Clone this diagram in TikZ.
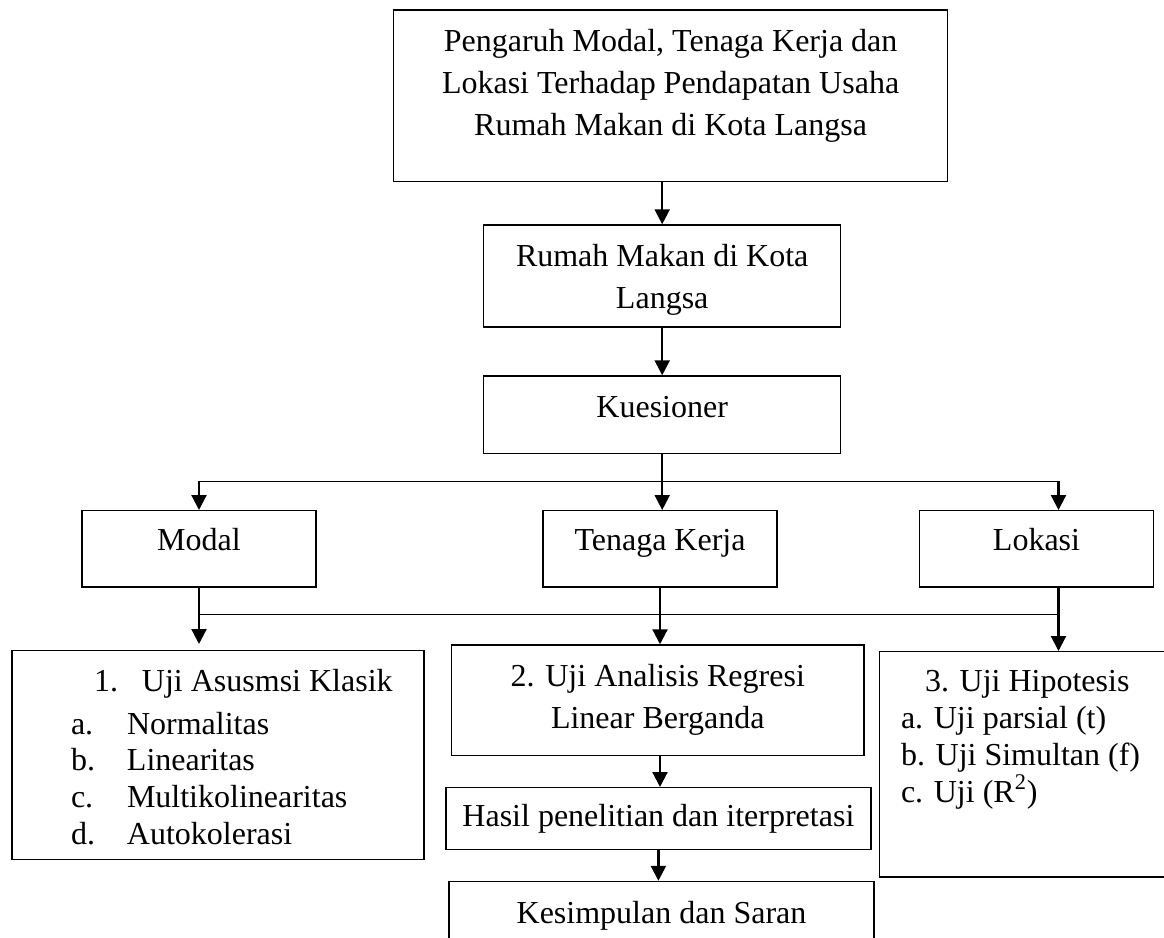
\documentclass[tikz,border=0pt]{standalone}
\usepackage{fontspec}
\setmainfont{Liberation Serif}
\usetikzlibrary{arrows.meta}

\begin{document}
\begin{tikzpicture}[x=0.5pt,y=-0.5pt,
  kotak/.style={draw,line width=0.7pt,inner sep=0pt,align=center,text height=11pt,font=\fontsize{16pt}{21pt}\selectfont},
  daftar/.style={kotak,align=flush left,font=\fontsize{16pt}{18.4pt}\selectfont},
  panah/.style={-{Triangle[length=7.5pt,width=7.5pt]},line width=1.1pt},
  garis/.style={line width=0.6pt}]
\useasboundingbox (0,0) rectangle (1164,938);
\begin{scope}
\clip (0,0) rectangle (1164,938);
% kotak atas
\node[kotak,minimum width=277pt,minimum height=85.8pt,text height=53pt,text depth=13.8pt] (judul) at (670.6,95.8)
   {Pengaruh Modal, Tenaga Kerja dan\\Lokasi Terhadap Pendapatan Usaha\\Rumah Makan di Kota Langsa};
\node[kotak,minimum width=178.5pt,minimum height=51pt,text height=32pt,text depth=0pt] (rumah) at (662.2,276)
   {Rumah Makan di Kota\\Langsa};
\node[kotak,minimum width=178.5pt,minimum height=38.8pt,text depth=8pt] (kuesioner) at (662.2,414.8) {Kuesioner};
% variabel
\foreach \nama/\teks/\x in %
{modal/Modal/199,tenaga/Tenaga Kerja/660,lokasi/Lokasi/1036.5} {
   \node[kotak,minimum width=117pt,minimum height=38.2pt,text depth=9.3pt] (\nama) at (\x,548.9) {\teks};
}
% pengujian
\node[daftar,text width=206pt,minimum height=104.3pt,text depth=74.3pt] (asumsi) at (218,755)
   {\hspace*{41pt}\makebox[24pt][l]{1.}Uji Asusmsi Klasik\\[2.75pt]
    \hspace*{29.5pt}\makebox[28pt][l]{a.}Normalitas\\
    \hspace*{29.5pt}\makebox[28pt][l]{b.}Linearitas\\
    \hspace*{29.5pt}\makebox[28pt][l]{c.}Multikolinearitas\\
    \hspace*{29.5pt}\makebox[28pt][l]{d.}Autokolerasi};
\node[kotak,minimum width=206.2pt,minimum height=55.35pt,text height=32pt,text depth=4.3pt] (regresi) at (657.8,700.3)
   {2. Uji Analisis Regresi\\Linear Berganda};
\node[daftar,text width=150pt,minimum height=112.65pt,text depth=83.6pt] (hipotesis) at (1029.7,764.35)
   {\hspace*{22.65pt}3. Uji Hipotesis\\
    \hspace*{10.65pt}a. Uji parsial (t)\\
    \hspace*{10.65pt}b. Uji Simultan (f)\\
    \hspace*{10.65pt}c. Uji (R\textsuperscript{2})};
\node[kotak,minimum width=212.6pt,minimum height=30.8pt,text depth=2.8pt] (hasil) at (658.4,818.5)
   {Hasil penelitian dan iterpretasi};
\node[kotak,minimum width=212.5pt,minimum height=38pt,text depth=7.5pt] (kesimpulan) at (661.5,919.5)
   {Kesimpulan dan Saran};
% alur
\coordinate (lokasiN) at ([xshift=11pt]lokasi.north);
\coordinate (lokasiS) at ([xshift=11pt]lokasi.south);
\path (kuesioner.south) ++(0,27) coordinate (simpangA);
\path (modal.south) ++(0,27) coordinate (simpangB);
\draw[panah] (rumah.north |- judul.south) -- (rumah.north);
\draw[panah] (rumah.south) -- (kuesioner.north);
\draw[line width=1.1pt] (kuesioner.south) -- (simpangA);
\draw[garis] (simpangA -| modal.north) -- (simpangA -| lokasiN);
\draw[panah] (simpangA -| modal.north) -- (modal.north);
\draw[panah] (simpangA) -- (simpangA |- tenaga.north);
\draw[panah] (simpangA -| lokasiN) -- (lokasiN);
\draw[garis] (simpangB) -- (simpangB -| lokasiS);
\draw[panah,shorten >=3pt] (modal.south) -- (modal.south |- asumsi.north);
\draw[panah] (tenaga.south) -- (tenaga.south |- regresi.north);
\draw[panah] (lokasiS) -- (lokasiS |- hipotesis.north);
\draw[panah] (tenaga.south |- regresi.south) -- (tenaga.south |- hasil.north);
\draw[panah] (hasil.south) -- (hasil.south |- kesimpulan.north);
\end{scope}
\end{tikzpicture}
\end{document}
